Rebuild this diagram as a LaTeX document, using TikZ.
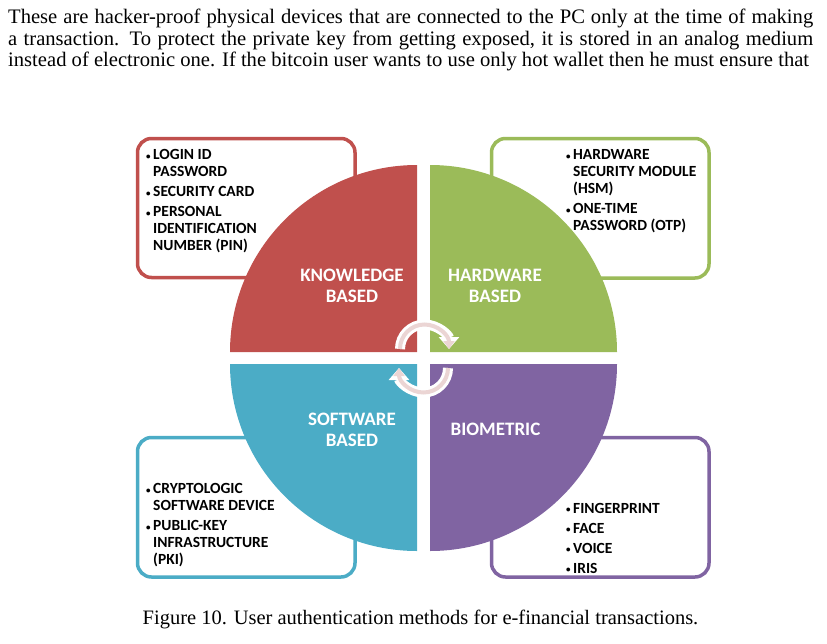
\documentclass[tikz,border=0pt]{standalone}
\usepackage{fontspec}
\setmainfont{Liberation Serif}
\newfontfamily\calibri{Carlito}
\usetikzlibrary{positioning,arrows.meta}
\definecolor{redq}{HTML}{C0504D}
\definecolor{greenq}{HTML}{9BBB59}
\definecolor{blueq}{HTML}{4BACC6}
\definecolor{purpleq}{HTML}{8064A2}
\definecolor{pinkarr}{HTML}{EBD5D4}
\newcommand{\itemdot}{\makebox[7pt][l]{\small\raisebox{0.5pt}{•}}}
\newcommand{\itemgap}{\hspace{7pt}}

\begin{document}
\begin{tikzpicture}[
  x=1pt,y=-1pt,
  every node/.style={inner sep=0pt},
  body/.style={anchor=west,font=\fontsize{20.6}{22}\selectfont},
  card/.style={line width=3.5pt,rounded corners=14pt,fill=white},
  listtext/.style={anchor=north west,align=left,black,
                   font=\calibri\bfseries\fontsize{15.5}{17}\selectfont},
  quadlabel/.style={align=center,white,
                    font=\calibri\bfseries\fontsize{19}{21}\selectfont},
  turnback/.style={white,line width=10pt,line cap=butt,
                   -{Triangle[length=12pt,width=20pt]}},
  turnfront/.style={pinkarr,line width=4pt,line cap=butt,
                    -{Triangle[length=8pt,width=11pt]}}
]
\useasboundingbox (0,0) rectangle (827,643);

\node[body] (line1) at (8,18) {\makebox[805pt][s]{These are hacker-proof physical devices that are connected to the PC only at the time of making}};
\node[body] (line2) at (8,40) {\makebox[805pt][s]{a transaction. To protect the private key from getting exposed, it is stored in an analog medium}};
\node[body] (line3) at (8,61) {instead of electronic one. If the bitcoin user wants to use only hot wallet then he must ensure that};

% boxes go first, the circle covers their inner corners
\draw[card,draw=redq] (137.5,138.5) rectangle (355,277.5);
\draw[card,draw=greenq] (491.5,138.5) rectangle (709,278);
\draw[card,draw=blueq] (137.5,437.5) rectangle (355,577);
\draw[card,draw=purpleq] (491.5,437.5) rectangle (709,577);

\fill[redq] (417,352) -- (230,352) arc[start angle=180,end angle=90,radius=187pt] -- cycle;
\fill[greenq] (430,352) -- (430,165) arc[start angle=90,end angle=0,radius=187pt] -- cycle;
\fill[blueq] (417,364) -- (417,551) arc[start angle=270,end angle=180,radius=187pt] -- cycle;
\fill[purpleq] (430,364) -- (617,364) arc[start angle=360,end angle=270,radius=187pt] -- cycle;

\node[quadlabel] (know) at (352,285.5) {KNOWLEDGE\\BASED};
\node[quadlabel] (hard) at (495,285.5) {HARDWARE\\BASED};
\node[quadlabel] (soft) at (352,429.5) {SOFTWARE\\BASED};
\node[quadlabel] (bio) at (495.5,429) {BIOMETRIC};

\node[listtext] (knowlist) at (146,149.5) {\itemdot LOGIN ID\\
  \itemgap PASSWORD\\[3pt]
  \itemdot SECURITY CARD\\[3pt]
  \itemdot PERSONAL\\
  \itemgap IDENTIFICATION\\
  \itemgap NUMBER (PIN)};
\node[listtext] (hardlist) at (566,149.5) {\itemdot HARDWARE\\
  \itemgap SECURITY MODULE\\
  \itemgap (HSM)\\[3pt]
  \itemdot ONE-TIME\\
  \itemgap PASSWORD (OTP)};
\node[listtext] (softlist) at (146,483.5) {\itemdot CRYPTOLOGIC\\
  \itemgap SOFTWARE DEVICE\\[3pt]
  \itemdot PUBLIC-KEY\\
  \itemgap INFRASTRUCTURE\\
  \itemgap (PKI)};
\node[listtext] (biolist) at (566,503) {\itemdot FINGERPRINT\\[3pt]
  \itemdot FACE\\[3pt]
  \itemdot VOICE\\[3pt]
  \itemdot IRIS};

\draw[turnback] (400,349) arc[start angle=180,end angle=0,radius=24.5pt];
\draw[turnfront] (400,349) arc[start angle=180,end angle=0,radius=24.5pt];
\draw[turnback] (448,368) arc[start angle=360,end angle=180,radius=24.5pt];
\draw[turnfront] (448,368) arc[start angle=360,end angle=180,radius=24.5pt];

\node[font=\fontsize{20.5}{22}\selectfont] (caption) at (420.5,619) {Figure 10. User authentication methods for e-financial transactions.};
\end{tikzpicture}
\end{document}
